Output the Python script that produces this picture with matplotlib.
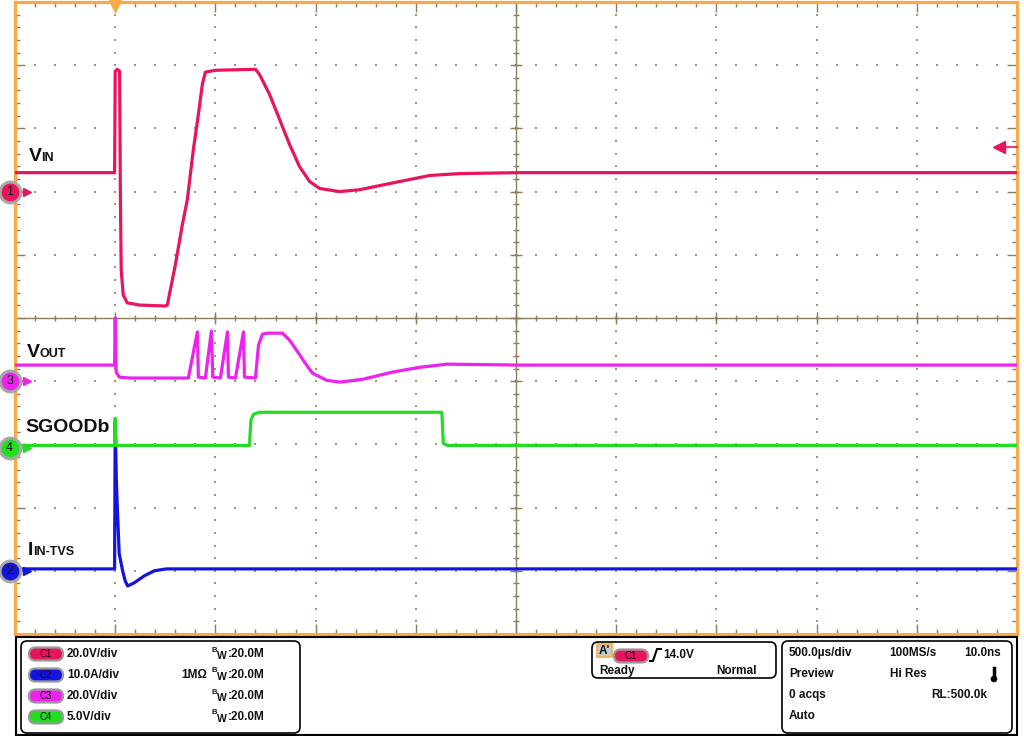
import numpy as np
import matplotlib.pyplot as plt
from matplotlib.patches import FancyBboxPatch, Rectangle, Circle

plt.rcParams['font.family'] = ['Liberation Sans', 'DejaVu Sans']

# time in microseconds relative to trigger, values in channel units
vin_t = [-500, -3, 0, 10, 22, 26, 30, 40, 60, 120, 250, 260, 300, 335, 360, 390, 415, 435, 450, 500,
         700, 720, 770, 820, 870, 920, 970, 1020, 1120, 1220, 1320, 1420, 1570, 1720, 2020, 4500]
vin_v = [6.0, 6.0, 38.1, 38.7, 38.1, -2.5, -24.8, -32.7, -35.2, -35.9, -36.2, -35.9, -23.2, -10.5, -2.5,
         13.3, 24.4, 34.0, 37.8, 38.4, 38.7, 37.1, 30.8, 22.9, 14.9, 7.9, 3.2, 1.0, 0.0, 0.6, 1.9, 3.2,
         5.1, 5.7, 6.0, 6.0]

vout_t = [-500, -3, 0, 5, 20, 70, 365, 410, 415, 450, 480, 487, 525, 560, 565, 600, 640, 645, 700,
          715, 735, 760, 835, 870, 905, 945, 985, 1055, 1120, 1235, 1385, 1520, 1655, 2020, 4500]
vout_v = [5.1, 5.1, 20.0, 2.9, 1.3, 1.0, 1.0, 15.6, 1.3, 1.0, 15.9, 1.3, 1.0, 15.6, 1.3, 1.0, 15.6, 1.3,
          1.0, 11.4, 14.9, 15.2, 15.2, 13.0, 9.8, 6.0, 2.5, 0.3, -0.3, 0.6, 2.9, 4.4, 5.4, 5.1, 5.1]

sgood_t = [-500, -3, 0, 5, 670, 677, 690, 720, 1630, 1637, 1660, 4500]
sgood_v = [0.17, 0.17, 2.31, 0.17, 0.17, 2.15, 2.63, 2.79, 2.79, 0.33, 0.17, 0.17]

iin_t = [-500, -3, 0, 6, 12, 20, 37, 50, 62, 95, 145, 195, 255, 4500]
iin_a = [0.3, 0.3, 23.5, 14.0, 8.9, 2.7, 0.0, -1.6, -2.4, -1.9, -0.8, 0.0, 0.3, 0.3]

# channel setup: scale per div and ground offset in divisions
ch_names = ['C1', 'C2', 'C3', 'C4']
ch_scale = [20.0, 10.0, 20.0, 5.0]
ch_offset = [2.0, -4.0, -1.0, -2.05]
ch_colors = ['#E8155C', '#1414DC', '#EE22EE', '#22DD22']
ch_scale_text = ['20.0V/div', '10.0A/div', '20.0V/div', '5.0V/div']
trig_level = 14.0

orange = '#F7AA48'
gridc = '#8C7D5E'
dotc = '#A39478'

fig = plt.figure(figsize=(10.24, 7.36), dpi=100)
W, H = 1024, 736
ax = fig.add_axes([15 / W, (H - 634) / H, 1002 / W, 632 / H])
ax.set_xlim(-500, 4500)
ax.set_ylim(-5, 5)

for s in ax.spines.values():
    s.set_color(orange)
    s.set_linewidth(2.3)

ax.set_xticks(np.arange(-500, 4501, 500))
ax.set_xticks(np.arange(-500, 4501, 100), minor=True)
ax.set_yticks(np.arange(-5, 6, 1))
ax.set_yticks(np.arange(-5, 5.01, 0.2), minor=True)
ax.tick_params(which='both', direction='in', top=True, right=True, bottom=True, left=True,
               labelbottom=False, labelleft=False, color=gridc, width=1.0)
ax.tick_params(which='major', length=7)
ax.tick_params(which='minor', length=3.5)

# dotted grid
ymin_pos = np.arange(-5, 5.01, 0.2)
xmin_pos = np.arange(-500, 4501, 100)
for gx in np.arange(0, 4001, 500):
    if gx == 2000:
        continue
    ax.scatter(np.full(len(ymin_pos), gx), ymin_pos, s=1.6, marker='s', color=dotc, linewidths=0, zorder=1)
for gy in range(-4, 5):
    if gy == 0:
        continue
    ax.scatter(xmin_pos, np.full(len(xmin_pos), gy), s=1.6, marker='s', color=dotc, linewidths=0, zorder=1)

# center lines with crossbars
ax.axvline(2000, color=gridc, lw=1.0, zorder=1)
ax.axhline(0, color=gridc, lw=1.0, zorder=1)
ax.plot(np.full(len(ymin_pos), 2000), ymin_pos, ls='none', marker='_', ms=5, mew=1.0, color=gridc, zorder=1)
ax.plot(np.full(11, 2000), np.arange(-5, 6), ls='none', marker='_', ms=8, mew=1.0, color=gridc, zorder=1)
ax.plot(xmin_pos, np.zeros(len(xmin_pos)), ls='none', marker='|', ms=5, mew=1.0, color=gridc, zorder=1)
ax.plot(np.arange(-500, 4501, 500), np.zeros(11), ls='none', marker='|', ms=8, mew=1.0, color=gridc, zorder=1)

# traces
def to_div(vals, ch):
    return [ch_offset[ch] + v / ch_scale[ch] for v in vals]

ax.plot(iin_t, to_div(iin_a, 1), color=ch_colors[1], lw=2.3, zorder=3)
ax.plot(sgood_t, to_div(sgood_v, 3), color=ch_colors[3], lw=2.3, zorder=3)
ax.plot(vout_t, to_div(vout_v, 2), color=ch_colors[2], lw=2.3, zorder=3)
ax.plot(vin_t, to_div(vin_v, 0), color=ch_colors[0], lw=2.3, zorder=4)

# channel ground markers
for i in range(4):
    c = ch_colors[i]
    ax.plot([-510, -450], [ch_offset[i]] * 2, color=c, lw=1.3, clip_on=False, zorder=9)
    ax.plot(-440, ch_offset[i], marker='>', ms=6, color=c, clip_on=False, zorder=9)
    ax.plot(-527, ch_offset[i], 'o', ms=15, mfc=c, mec='#A8A8A8', mew=2.2, clip_on=False, zorder=10)
    ax.text(-527, ch_offset[i], ch_names[i][1], ha='center', va='center', fontsize=9,
            color='#111111', clip_on=False, zorder=11)

# trigger position and level
trig_y = ch_offset[0] + trig_level / ch_scale[0]
ax.plot(0, 4.93, marker='v', ms=8, color=orange, clip_on=False, zorder=10)
ax.plot([4420, 4500], [trig_y, trig_y], color=ch_colors[0], lw=1.2, clip_on=False, zorder=10)
ax.plot(4410, trig_y, marker='<', ms=8, color=ch_colors[0], clip_on=False, zorder=10)

# overlay in pixel coordinates for labels and status panel
ov = fig.add_axes([0, 0, 1, 1], zorder=5)
ov.set_xlim(0, W)
ov.set_ylim(H, 0)
ov.axis('off')
ov.patch.set_visible(False)

tc = '#111111'
ov.text(29, 161, 'V', fontsize=14, weight='bold', color=tc)
ov.text(41, 161, 'IN', fontsize=9, weight='bold', color=tc)
ov.text(27, 357, 'V', fontsize=14, weight='bold', color=tc)
ov.text(40, 357, 'OUT', fontsize=9, weight='bold', color=tc)
ov.text(25, 432, 'SGOODb', fontsize=14, weight='bold', color=tc)
ov.text(28, 555, 'I', fontsize=14, weight='bold', color=tc)
ov.text(33, 555, 'IN-TVS', fontsize=9, weight='bold', color=tc)

# bottom panel
ov.add_patch(Rectangle((16, 637), 1001, 98, fill=False, ec='black', lw=1.5))

def rbox(x0, y0, x1, y1):
    ov.add_patch(FancyBboxPatch((x0, y0), x1 - x0, y1 - y0,
                                boxstyle='round,pad=0,rounding_size=6', fc='white', ec='black', lw=1.2))

def pill(x, y, c, label):
    ov.add_patch(FancyBboxPatch((x, y - 6.5), 34, 13, boxstyle='round,pad=0,rounding_size=6.5',
                                fc=c, ec='#9A9A9A', lw=1.6))
    ov.text(x + 17, y, label, ha='center', va='center', fontsize=7, color='#220022')

rbox(21, 641, 300, 733)
rbox(592, 642, 776, 678)
rbox(782, 641, 1012, 733)

fs = 8.5
rows = [654, 675, 696, 717]
for i in range(4):
    pill(29, rows[i], ch_colors[i], ch_names[i])
    ov.text(67, rows[i], ch_scale_text[i], fontsize=fs, weight='bold', va='center', color=tc)
    ov.text(211, rows[i] - 4, 'B', fontsize=5.5, weight='bold', va='center', color=tc)
    ov.text(217, rows[i] + 2, 'W', fontsize=7.5, weight='bold', va='center', color=tc)
    ov.text(228, rows[i], ':20.0M', fontsize=fs, weight='bold', va='center', color=tc)
ov.text(181, rows[1], '1M\u03a9', fontsize=fs, weight='bold', va='center', color=tc)

# trigger box
ov.add_patch(Rectangle((597, 644), 15, 13, fc='#C8C8C8', ec=orange, lw=1.2))
ov.text(599, 651, "A'", fontsize=fs, weight='bold', va='center', color=tc)
pill(614, 656, ch_colors[0], 'C1')
ov.plot([650, 653, 657, 661], [661, 661, 649, 649], color='black', lw=1.5)
ov.text(663, 655, '14.0V', fontsize=fs, weight='bold', va='center', color=tc)
ov.text(599, 671, 'Ready', fontsize=fs, weight='bold', va='center', color=tc)
ov.text(757, 671, 'Normal', fontsize=fs, weight='bold', va='center', ha='right', color=tc)

# timebase box
ov.text(789, 653, '500.0\u00b5s/div', fontsize=fs, weight='bold', va='center', color=tc)
ov.text(889, 653, '100MS/s', fontsize=fs, weight='bold', va='center', color=tc)
ov.text(1001, 653, '10.0ns', fontsize=fs, weight='bold', va='center', ha='right', color=tc)
ov.text(789, 674, 'Preview', fontsize=fs, weight='bold', va='center', color=tc)
ov.text(890, 674, 'Hi Res', fontsize=fs, weight='bold', va='center', color=tc)
ov.text(789, 695, '0 acqs', fontsize=fs, weight='bold', va='center', color=tc)
ov.text(987, 695, 'RL:500.0k', fontsize=fs, weight='bold', va='center', ha='right', color=tc)
ov.text(789, 716, 'Auto', fontsize=fs, weight='bold', va='center', color=tc)
ov.plot([994, 994], [668, 678], color='black', lw=2.5)
ov.add_patch(Circle((994, 679), 2.6, color='black'))

fig.savefig('out.png', dpi=100)
